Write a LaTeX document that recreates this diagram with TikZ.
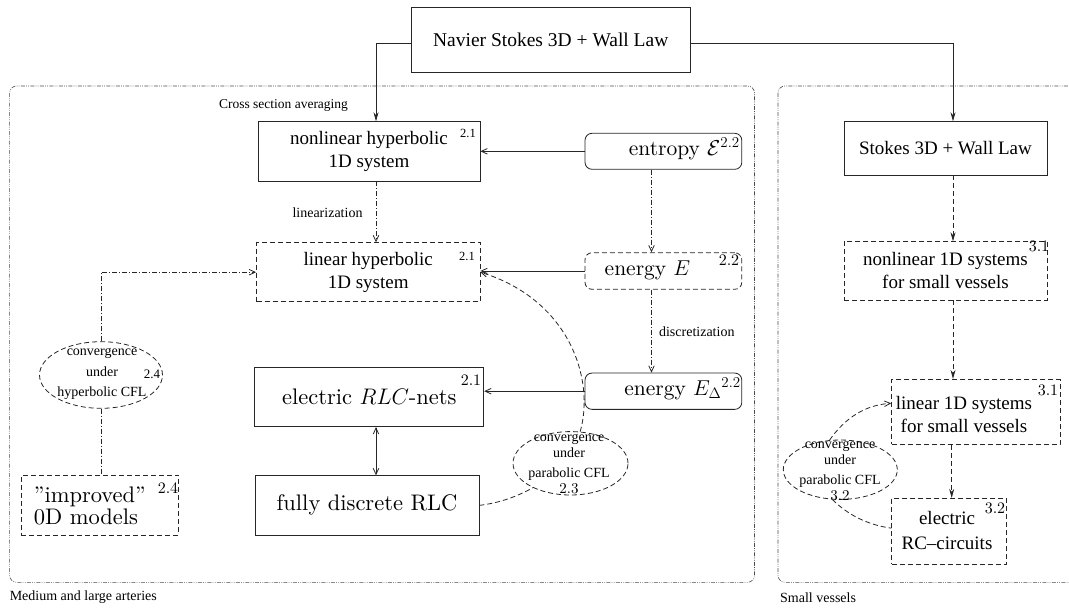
\RequirePackage{fix-cm}
\documentclass[tikz,border=0pt]{standalone}
\usepackage[no-math]{fontspec}
\setmainfont{Liberation Serif}
\newfontfamily\cmfont{lmroman10-regular}[Extension=.otf]
\usetikzlibrary{arrows.meta,shapes.geometric}

\tikzset{
  ln/.style={draw=black!85, line width=0.8pt},
  box/.style={ln, rectangle, inner sep=0pt, align=center},
  dbox/.style={box, dash pattern=on 5pt off 3pt},
  rbox/.style={box, rounded corners=7pt},
  drbox/.style={rbox, dash pattern=on 5pt off 3pt},
  oval/.style={ln, ellipse, inner sep=0pt, dash pattern=on 5pt off 3pt},
  region/.style={draw=black!70, line width=0.6pt, rounded corners=7pt,
    dash pattern=on 4pt off 1.3pt on 0.8pt off 1.3pt on 0.8pt off 1.3pt},
  tm/.style={font=\fontsize{19}{23}\selectfont, inner sep=0pt, align=center},
  cmt/.style={font=\cmfont\fontsize{22.5}{22}\selectfont, inner sep=0pt, align=center},
  cme/.style={font=\cmfont\fontsize{21.5}{22}\selectfont, inner sep=0pt},
  sml/.style={font=\fontsize{14}{16}\selectfont, inner sep=0pt, align=center},
  tnum/.style={font=\fontsize{12.5}{14}\selectfont, inner sep=0pt},
  cnum/.style={font=\cmfont\fontsize{16}{17}\selectfont, inner sep=0pt},
  conn/.style={draw=black!85, line width=0.8pt},
  dsh/.style={conn, dash pattern=on 5pt off 3pt},
  dshdot/.style={conn, dash pattern=on 5pt off 2pt on 1pt off 2pt},
  headfill/.tip={Stealth[length=9pt,width=5pt]},
  headopen/.tip={Straight Barb[length=6pt,width=5.5pt]},
}

\begin{document}
\begin{tikzpicture}[x=1pt,y=-1pt]
\useasboundingbox (0,0) rectangle (1069,608);
\clip (0,0) rectangle (1069,608);

% model regions
\draw[region] (9.6,86) rectangle (754.5,582.3);
\draw[region] (778,86) rectangle (1095,582.3);
\node[sml, font=\fontsize{13.5}{16}\selectfont] (lbl-cross) at (283.5,105) {Cross section averaging};
\node[sml, anchor=west] (lbl-med) at (9.6,597.3) {Medium and large arteries};
\node[sml, anchor=west] (lbl-small) at (780,597.3) {Small vessels};

% top model
\node[box, minimum width=278.5pt, minimum height=65.4pt, font=\fontsize{19.5}{23}\selectfont] (navier) at (550.75,40) {Navier Stokes 3D + Wall Law};

% medium and large arteries
\node[box, tm, minimum width=222pt, minimum height=59.3pt] (nonlin) at (369,151.35) {nonlinear hyperbolic\\1D system};
\node[dbox, tm, minimum width=223.5pt, minimum height=59pt] (linhyp) at (368.25,272.2) {linear hyperbolic\\1D system};
\node[box, cmt, minimum width=229pt, minimum height=59.4pt] (rlcnets) at (369.3,397) {electric $RLC$-nets};
\node[box, cmt, minimum width=224pt, minimum height=59.3pt] (fully) at (367,505.35) {fully discrete RLC};
\node[dbox, minimum width=157.1pt, minimum height=60pt] (improved) at (99.85,505) {};
\node[cmt, anchor=west, align=left] (improved-t) at (33.7,506) {”improved”\\0D models};

\node[rbox, minimum width=156.8pt, minimum height=36pt] (entropy) at (663.4,151.3) {};
\node[cme, anchor=base east] (entropy-t) at (740,155) {entropy $\mathcal{E}^{2.2}$};
\node[drbox, minimum width=156.8pt, minimum height=36.6pt] (energyE) at (663.4,271) {};
\node[cme, anchor=base] (energyE-t) at (647.5,275.5) {energy $E$};
\node[rbox, minimum width=156.8pt, minimum height=36.3pt] (energyD) at (663.4,391.2) {};
\node[cme, anchor=base east] (energyD-t) at (741,395.5) {energy $E_\Delta{}^{2.2}$};

\node[oval, minimum width=123pt, minimum height=66.6pt] (hypell) at (101,375) {};
\node[sml] (hypell-t) at (102,374.2) {convergence\\[4.5pt]under\\[4.5pt]hyperbolic CFL};
\node[oval, minimum width=115pt, minimum height=63.4pt] (parell) at (570.5,463.3) {};
\node[sml] (parell-t) at (569,464.4) {convergence\\under\\[3.7pt]parabolic CFL\\{\cmfont\fontsize{15}{16}\selectfont 2.3}};

% small vessels
\node[box, minimum width=203pt, minimum height=53.3pt, font=\fontsize{19}{23}\selectfont] (stokes) at (945.5,148.35) {Stokes 3D + Wall Law};
\node[dbox, tm, minimum width=203pt, minimum height=58.3pt] (nl1d) at (945.5,270.85) {nonlinear 1D systems\\for small vessels};
\node[dbox, minimum width=168.3pt, minimum height=65pt] (lin1d) at (975.85,411.8) {};
\node[tm] (lin1d-t) at (964,414.5) {linear 1D systems\\for small vessels};
\node[dbox, minimum width=115pt, minimum height=65.7pt] (rc) at (949.2,531.15) {};
\node[tm] (rc-t) at (947,530.5) {electric\\[1.5pt]RC--circuits};
\node[oval, minimum width=114pt, minimum height=59.4pt] (rcell) at (840.3,469.7) {};
\node[sml] (rcell-t) at (840,470.9) {convergence\\under\\[4.5pt]parabolic CFL\\{\cmfont\fontsize{15}{16}\selectfont 3.2}};

% section numbers
\node[tnum] (n-nonlin) at (468,133) {2.1};
\node[tnum] (n-linhyp) at (467,256.7) {2.1};
\node[cnum] (n-rlc) at (471,380) {2.1};
\node[cnum] (n-impr) at (168,487.7) {2.4};
\node[tnum, font=\fontsize{13}{14}\selectfont] (n-hyp) at (152,374) {2.4};
\node[cnum] (n-enE) at (729,260) {2.2};
\node[cnum] (n-nl1d) at (1039,246.7) {3.1};
\node[cnum] (n-lin1d) at (1048,390) {3.1};
\node[cnum] (n-rc) at (995,508.3) {3.2};

% edge labels
\node[sml] (lbl-lin) at (327.5,212.7) {linearization};
\node[sml] (lbl-disc) at (696.8,332) {discretization};

% columns used by vertical connectors
\coordinate (lx) at (376,0);
\coordinate (ex) at (651.5,0);
\coordinate (rx) at (953,0);
\coordinate (rx2) at (951.7,0);

% connectors from the 3D model
\draw[conn, -headfill] ([yshift=-3pt]navier.west) -| (nonlin.north -| lx);
\draw[conn, -headfill] ([yshift=-3pt]navier.east) -| (stokes.north -| rx);

% medium and large arteries
\draw[conn, -headopen] (entropy.west) -- (entropy.west -| nonlin.east);
\draw[conn, -headopen] (energyE.west) -- (energyE.west -| linhyp.east);
\draw[conn, -headopen] (energyD.west) -- (energyD.west -| rlcnets.east);
\draw[dshdot, -headopen] (entropy.south -| ex) -- (energyE.north -| ex);
\draw[dshdot, -headopen] (energyE.south -| ex) -- (energyD.north -| ex);
\draw[dshdot, -headopen] (nonlin.south -| lx) -- (linhyp.north -| lx);
\draw[dshdot, -headopen] (hypell.north) |- (linhyp.west);
\draw[dshdot] (hypell.south) -- (hypell.south |- improved.north);
\draw[conn, headopen-headopen] (rlcnets.south -| lx) -- (fully.north -| lx);
\draw[dsh] (fully.east) .. controls (500,503) and (518,496) .. (parell.213);
\draw[dsh, -headopen] (parell.73) .. controls (595,380) and (570,300) .. (linhyp.east);

% small vessels
\draw[dsh, -headfill] (stokes.south -| rx) -- (nl1d.north -| rx);
\draw[dsh, -headfill] (nl1d.south -| rx) -- (lin1d.north -| rx);
\draw[dsh, -headfill] (lin1d.south -| rx2) -- (rc.north -| rx2);
\draw[dsh, -headopen] (rcell.110) .. controls (845,418) and (865,405) .. ([yshift=8.5pt]lin1d.west);
\draw[dsh] (rcell.-105) .. controls (848,515) and (868,525) .. ([yshift=3pt]rc.west);
\end{tikzpicture}
\end{document}
